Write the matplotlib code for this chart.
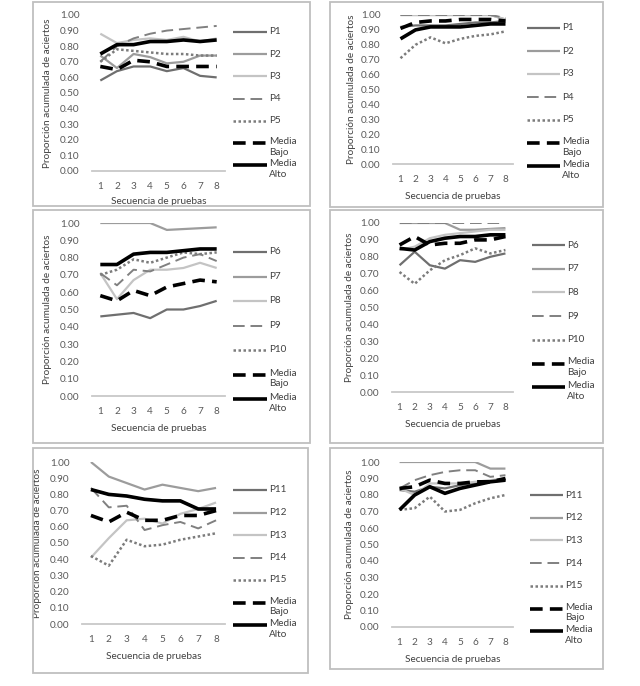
import numpy as np
import matplotlib.pyplot as plt
from matplotlib.patches import Rectangle
from matplotlib.lines import Line2D

plt.rcParams['font.family'] = ['Lato', 'DejaVu Sans']

# =============================================================================
# DATOS
# =============================================================================

pruebas = [1, 2, 3, 4, 5, 6, 7, 8]

# Fila 1 (P1-P5) - grupo bajo / grupo alto
bajo_p1 = [0.58, 0.64, 0.67, 0.67, 0.64, 0.66, 0.61, 0.60]
bajo_p2 = [0.74, 0.66, 0.75, 0.73, 0.69, 0.70, 0.74, 0.74]
bajo_p3 = [0.88, 0.82, 0.84, 0.85, 0.84, 0.86, 0.83, 0.85]
bajo_p4 = [0.70, 0.80, 0.85, 0.88, 0.90, 0.91, 0.92, 0.93]
bajo_p5 = [0.70, 0.78, 0.77, 0.76, 0.75, 0.75, 0.74, 0.74]
bajo_mb = [0.67, 0.65, 0.71, 0.70, 0.67, 0.67, 0.67, 0.67]
bajo_ma = [0.75, 0.81, 0.81, 0.83, 0.83, 0.84, 0.83, 0.84]

alto_p1 = [0.92, 0.93, 0.93, 0.93, 0.94, 0.95, 0.95, 0.96]
alto_p2 = [1.00, 1.00, 1.00, 1.00, 1.00, 1.00, 1.00, 0.97]
alto_p3 = [1.00, 1.00, 1.00, 1.00, 1.00, 1.00, 1.00, 0.97]
alto_p4 = [1.00, 1.00, 1.00, 1.00, 1.00, 1.00, 1.00, 0.98]
alto_p5 = [0.71, 0.80, 0.85, 0.81, 0.84, 0.86, 0.87, 0.89]
alto_mb = [0.91, 0.95, 0.96, 0.96, 0.97, 0.97, 0.97, 0.96]
alto_ma = [0.84, 0.90, 0.92, 0.92, 0.92, 0.93, 0.94, 0.94]

# Fila 2 (P6-P10)
bajo_p6 = [0.46, 0.47, 0.48, 0.45, 0.50, 0.50, 0.52, 0.55]
bajo_p7 = [1.00, 1.00, 1.00, 1.00, 0.96, 0.965, 0.97, 0.975]
bajo_p8 = [0.71, 0.56, 0.67, 0.73, 0.73, 0.74, 0.77, 0.74]
bajo_p9 = [0.71, 0.64, 0.73, 0.72, 0.76, 0.80, 0.82, 0.78]
bajo_p10 = [0.70, 0.73, 0.79, 0.77, 0.80, 0.83, 0.82, 0.83]
bajo_mb2 = [0.58, 0.55, 0.61, 0.58, 0.63, 0.65, 0.67, 0.66]
bajo_ma2 = [0.76, 0.76, 0.82, 0.83, 0.83, 0.84, 0.85, 0.85]

alto_p6 = [0.75, 0.83, 0.75, 0.73, 0.78, 0.77, 0.80, 0.82]
alto_p7 = [1.00, 1.00, 1.00, 1.00, 0.96, 0.96, 0.965, 0.97]
alto_p8 = [0.84, 0.86, 0.91, 0.93, 0.94, 0.95, 0.96, 0.96]
alto_p9 = [1.00, 1.00, 1.00, 1.00, 1.00, 1.00, 1.00, 1.00]
alto_p10 = [0.71, 0.64, 0.72, 0.78, 0.81, 0.85, 0.82, 0.84]
alto_mb2 = [0.87, 0.92, 0.87, 0.88, 0.88, 0.90, 0.90, 0.92]
alto_ma2 = [0.85, 0.84, 0.89, 0.91, 0.92, 0.92, 0.93, 0.93]

# Fila 3 (P11-P15)
bajo_p11 = [0.83, 0.80, 0.79, 0.77, 0.76, 0.76, 0.71, 0.71]
bajo_p12 = [1.00, 0.91, 0.87, 0.83, 0.86, 0.84, 0.82, 0.84]
bajo_p13 = [0.41, 0.53, 0.64, 0.65, 0.62, 0.68, 0.71, 0.75]
bajo_p14 = [0.84, 0.72, 0.73, 0.58, 0.61, 0.63, 0.59, 0.64]
bajo_p15 = [0.42, 0.36, 0.52, 0.48, 0.49, 0.52, 0.54, 0.56]
bajo_mb3 = [0.67, 0.63, 0.69, 0.64, 0.64, 0.67, 0.67, 0.70]
bajo_ma3 = [0.83, 0.80, 0.79, 0.77, 0.76, 0.76, 0.71, 0.71]

alto_p11 = [0.83, 0.82, 0.85, 0.84, 0.86, 0.87, 0.88, 0.89]
alto_p12 = [1.00, 1.00, 1.00, 1.00, 1.00, 1.00, 0.96, 0.96]
alto_p13 = [0.84, 0.80, 0.87, 0.87, 0.87, 0.88, 0.89, 0.90]
alto_p14 = [0.84, 0.89, 0.92, 0.94, 0.95, 0.95, 0.91, 0.92]
alto_p15 = [0.71, 0.72, 0.79, 0.70, 0.71, 0.75, 0.78, 0.80]
alto_mb3 = [0.84, 0.85, 0.89, 0.87, 0.87, 0.88, 0.88, 0.90]
alto_ma3 = [0.71, 0.80, 0.85, 0.81, 0.84, 0.86, 0.88, 0.89]

etiquetas = [["P1", "P2", "P3", "P4", "P5"],
             ["P6", "P7", "P8", "P9", "P10"],
             ["P11", "P12", "P13", "P14", "P15"]]

paneles = [
    [bajo_p1, bajo_p2, bajo_p3, bajo_p4, bajo_p5, bajo_mb, bajo_ma],
    [alto_p1, alto_p2, alto_p3, alto_p4, alto_p5, alto_mb, alto_ma],
    [bajo_p6, bajo_p7, bajo_p8, bajo_p9, bajo_p10, bajo_mb2, bajo_ma2],
    [alto_p6, alto_p7, alto_p8, alto_p9, alto_p10, alto_mb2, alto_ma2],
    [bajo_p11, bajo_p12, bajo_p13, bajo_p14, bajo_p15, bajo_mb3, bajo_ma3],
    [alto_p11, alto_p12, alto_p13, alto_p14, alto_p15, alto_mb3, alto_ma3],
]

# =============================================================================
# ESTILOS
# =============================================================================

ESTILOS = [
    dict(color='#6f6f6f', lw=1.6, ls='-'),
    dict(color='#9c9c9c', lw=1.6, ls='-'),
    dict(color='#c4c4c4', lw=1.6, ls='-'),
    dict(color='#808080', lw=1.4, ls=(0, (6, 3))),
    dict(color='#7c7c7c', lw=1.8, ls=(0, (1, 1))),
    dict(color='black', lw=2.6, ls=(0, (3.5, 2))),
    dict(color='black', lw=2.6, ls='-'),
]

W, H = 640, 686
FS = 7.2
GRIS = '#595959'

# caja, ejes (x0, x1, y_cero, y_uno), leyenda (x0, x1, primera y, paso), ylabel x
layout = [
    ((33, 2, 310, 206), (92, 225, 171, 15), (233, 267, 32, 22.2), 52),
    ((330, 2, 603, 207), (393, 513, 164, 15), (527, 560, 28, 23.0), 356),
    ((33, 210, 310, 443), (92, 225, 396, 223), (233, 267, 252, 24.5), 52),
    ((330, 210, 603, 443), (392, 513, 392, 223), (532, 565, 245, 23.7), 354),
    ((33, 448, 308, 673), (82, 225, 624, 462), (233, 267, 490, 22.5), 42),
    ((330, 448, 603, 669), (392, 513, 627, 462), (530, 563, 495, 22.7), 354),
]

fig = plt.figure(figsize=(W / 100, H / 100), dpi=100)

for k, (series, (caja, ejes, ley, ylx)) in enumerate(zip(paneles, layout)):
    bx0, by0, bx1, by1 = caja
    fig.add_artist(Rectangle((bx0 / W, 1 - by1 / H), (bx1 - bx0) / W, (by1 - by0) / H,
                             transform=fig.transFigure, fill=False,
                             edgecolor='#bfbfbf', lw=1.3))

    x0, x1, yc, yu = ejes
    ax = fig.add_axes([x0 / W, 1 - yc / H, (x1 - x0) / W, (yc - yu) / H])
    nombres = etiquetas[k // 2] + ["Media\nBajo", "Media\nAlto"]
    for vals, est in zip(series, ESTILOS):
        ax.plot(pruebas, vals, solid_capstyle='butt', dash_capstyle='butt', **est)

    ax.set_xlim(0.5, 8.5)
    ax.set_ylim(0, 1.0)
    ax.set_xticks(pruebas)
    ax.set_yticks(np.arange(0, 1.01, 0.1))
    ax.set_yticklabels([f"{v:.2f}" for v in np.arange(0, 1.01, 0.1)])
    for s in ['top', 'right', 'left']:
        ax.spines[s].set_visible(False)
    ax.spines['bottom'].set_color('#c8c8c8')
    ax.spines['bottom'].set_linewidth(1.3)
    ax.tick_params(length=0, labelsize=FS, colors=GRIS)
    ax.tick_params(axis='x', pad=8)
    ax.tick_params(axis='y', pad=9)
    ax.patch.set_alpha(0)
    ax.set_xlabel("Secuencia de pruebas", fontsize=FS, color='#404040',
                  labelpad=4 if k == 0 else 6)
    ax.set_ylabel("Proporción acumulada de aciertos", fontsize=FS, color='#404040')
    ax.yaxis.set_label_coords((ylx - x0) / (x1 - x0), 0.5)

    # leyenda a la derecha
    lx0, lx1, ly, paso = ley
    for i, (nom, est) in enumerate(zip(nombres, ESTILOS)):
        yy = 1 - (ly + i * paso) / H
        fig.add_artist(Line2D([lx0 / W, lx1 / W], [yy, yy], transform=fig.transFigure,
                              solid_capstyle='butt', dash_capstyle='butt', **est))
        if '\n' in nom:
            fig.text((lx1 + 2) / W, yy + 6 / H, nom, fontsize=FS, color='#404040',
                     va='top', linespacing=1.25)
        else:
            fig.text((lx1 + 2) / W, yy, nom, fontsize=FS, color='#404040', va='center')

plt.savefig("out.png", dpi=100)
